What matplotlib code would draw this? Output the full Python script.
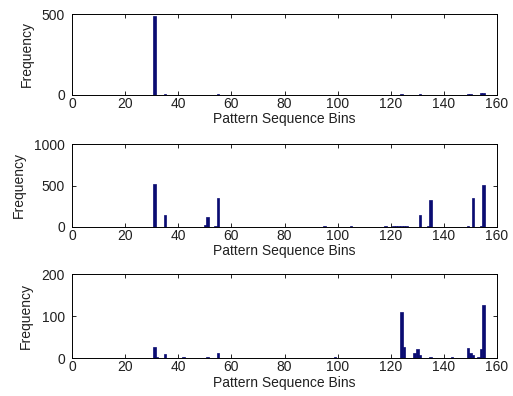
import matplotlib
matplotlib.use("Agg")
import matplotlib.pyplot as plt

plt.rcParams['font.family'] = ['Liberation Sans', 'DejaVu Sans']

# Panel 1
bins1 = [31, 35, 55, 124, 131, 149, 150, 154, 155]
freq1 = [488, 4, 4, 4, 4, 5, 5, 7, 10]

# Panel 2
bins2 = [31, 35, 50, 51, 54, 55, 95, 105, 118, 121, 122, 123, 124, 125, 126,
         131, 134, 135, 149, 151, 154, 155]
freq2 = [515, 142, 20, 118, 10, 352, 8, 8, 10, 8, 8, 10, 10, 10, 10,
         142, 10, 324, 10, 352, 10, 502]

# Panel 3
bins3 = [31, 32, 35, 42, 51, 55, 95, 99, 124, 125, 129, 130, 131, 135, 140,
         143, 149, 150, 151, 153, 154, 155]
freq3 = [27, 2, 10, 2, 2, 12, 1, 2, 110, 26, 12, 21, 9, 4, 1,
         2, 24, 12, 8, 3, 21, 128]

ylims = [500, 1000, 200]
yticks = [[0, 500], [0, 500, 1000], [0, 100, 200]]
xticks = list(range(0, 161, 20))

W, H = 513, 396
fig = plt.figure(figsize=(W / 100, H / 100), dpi=100)

positions = [
    (72 / W, 1 - 94.5 / H, 425 / W, 80.5 / H),
    (72 / W, 1 - 226.7 / H, 425 / W, 82.4 / H),
    (72 / W, 1 - 358.3 / H, 425 / W, 84 / H),
]

color = '#0a0c72'
txt = '#202020'
fs = 10
data = [(bins1, freq1), (bins2, freq2), (bins3, freq3)]
for (b, f), pos, yl, yt in zip(data, positions, ylims, yticks):
    ax = fig.add_axes(pos)
    ax.bar(b, f, width=0.95, color=color, edgecolor=color, linewidth=0.5)
    ax.set_xlim(0, 160)
    ax.set_ylim(0, yl)
    ax.set_xticks(xticks)
    ax.set_yticks(yt)
    ax.tick_params(direction='in', length=3, width=0.6, labelsize=fs,
                   top=True, right=True, color='black', labelcolor=txt)
    ax.tick_params(axis='x', pad=1.5)
    ax.tick_params(axis='y', pad=5)
    for s in ax.spines.values():
        s.set_linewidth(0.7)
    ax.set_xlabel('Pattern Sequence Bins', fontsize=fs, labelpad=1, color=txt)
    ax.set_ylabel('Frequency', fontsize=fs, labelpad=6, color=txt)

fig.savefig('out.png', dpi=100)
